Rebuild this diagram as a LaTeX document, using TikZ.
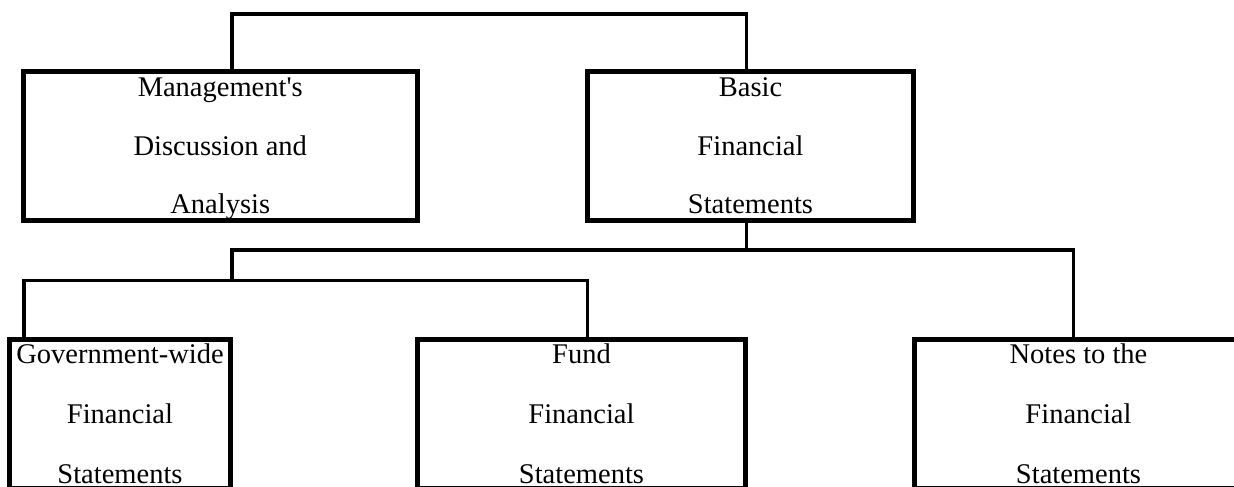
\documentclass[tikz,border=0pt]{standalone}
\usepackage{fontspec}
\setmainfont{Liberation Serif}

\tikzset{
  box/.style={draw, line width=5pt, inner sep=0pt, outer sep=0pt, align=center, anchor=north,
    font=\fontsize{28.5pt}{58.7pt}\selectfont},
  lowbox/.style={box, minimum height=148.5pt, font=\fontsize{28.5pt}{60pt}\selectfont},
  link/.style={line width=3.8pt}
}

\begin{document}
\begin{tikzpicture}[x=1pt, y=-1pt]
    \useasboundingbox (0,0) rectangle (1234,487);
    \clip (0,0) rectangle (1234,487);

    % top row
    \node[box, minimum width=393.5pt, minimum height=148.7pt] (mda) at (220.25,71.5) {Management\textquotesingle s\\Discussion and\\\smash{Analysis}};
    \node[box, minimum width=326pt, minimum height=148.7pt] (basic) at (750.5,71.5) {Basic\\Financial\\Statements};

    % bottom row
    \node[lowbox, minimum width=221.3pt] (gov) at (120,339.5) {Government-wide\\Financial\\Statements};
    \node[lowbox, minimum width=328pt] (fund) at (581.5,339.5) {Fund\\Financial\\Statements};
    \node[lowbox, minimum width=328pt] (notes) at (1078.5,339.5) {Notes to the\\Financial\\Statements};

    \coordinate (rootL) at (232,14);
    \coordinate (rootR) at (746.5,14);
    \coordinate (splitB) at (746.5,250);
    \coordinate (splitL) at (232,250);
    \coordinate (splitR) at (1073.5,250);
    \coordinate (forkL) at (24,280.5);
    \coordinate (forkR) at (587.5,280.5);

    \draw[link] (mda.north -| rootL) -- (rootL) -- (rootR) -- (basic.north -| rootR); % header
    \draw[link] (basic.south -| splitB) -- (splitB);
    \draw[link] (splitL |- forkL) -- (splitL) -- (splitR) -- (notes.north -| splitR);
    \draw[link] (gov.north -| forkL) -- (forkL) -- (forkR) -- (fund.north -| forkR);
\end{tikzpicture}
\end{document}
